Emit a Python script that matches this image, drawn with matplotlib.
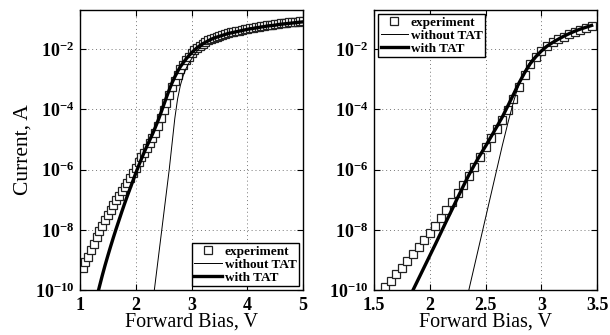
import matplotlib
matplotlib.use('Agg')
import matplotlib.pyplot as plt
import numpy as np
from matplotlib.ticker import NullLocator, FixedFormatter, FixedLocator

plt.rcParams['font.family'] = 'Liberation Serif'
plt.rcParams['font.weight'] = 'bold'
plt.rcParams['mathtext.fontset'] = 'custom'
plt.rcParams['mathtext.rm'] = 'Liberation Serif:bold'
plt.rcParams['mathtext.it'] = 'Liberation Serif:bold'
plt.rcParams['mathtext.bf'] = 'Liberation Serif:bold'

# ---- left panel: log10(current) ----
v_exp_left = np.round(np.arange(1.05, 5.001, 0.05), 2)
log_exp_left = [-9.27, -9.08, -8.90, -8.68, -8.46, -8.25, -8.05, -7.86, -7.67, -7.50,
                -7.33, -7.17, -7.02, -6.87, -6.72, -6.58, -6.43, -6.27, -6.10, -5.93,
                -5.76, -5.59, -5.43, -5.27, -5.12, -4.96, -4.77, -4.55, -4.30, -4.03,
                -3.77, -3.52, -3.27, -3.04, -2.84, -2.66, -2.51, -2.37, -2.25, -2.14,
                -2.04, -1.96, -1.89, -1.82, -1.76, -1.71, -1.66, -1.62, -1.58, -1.55,
                -1.52, -1.49, -1.46, -1.44, -1.42, -1.40, -1.38, -1.36, -1.34, -1.32,
                -1.30, -1.28, -1.27, -1.25, -1.24, -1.22, -1.21, -1.20, -1.18, -1.17,
                -1.16, -1.14, -1.13, -1.12, -1.11, -1.10, -1.09, -1.08, -1.07, -1.06]

v_tat_left = np.round(np.arange(1.30, 5.001, 0.05), 2)
log_tat_left = [-10.25, -9.88, -9.52, -9.18, -8.86, -8.55, -8.25, -7.96, -7.68, -7.40,
                -7.13, -6.87, -6.62, -6.37, -6.12, -5.88, -5.65, -5.43, -5.22, -5.02,
                -4.82, -4.60, -4.37, -4.12, -3.86, -3.60, -3.35, -3.12, -2.92, -2.74,
                -2.58, -2.45, -2.33, -2.22, -2.12, -2.03, -1.95, -1.88, -1.82, -1.77,
                -1.72, -1.67, -1.63, -1.60, -1.57, -1.54, -1.51, -1.48, -1.46, -1.44,
                -1.42, -1.40, -1.38, -1.36, -1.34, -1.32, -1.31, -1.29, -1.28, -1.26,
                -1.25, -1.23, -1.22, -1.21, -1.20, -1.18, -1.17, -1.16, -1.15, -1.14,
                -1.13, -1.12, -1.11, -1.10, -1.09]

v_notat_left = np.round(np.arange(2.30, 5.001, 0.05), 2)
log_notat_left = [-10.5, -9.75, -9.0, -8.25, -7.5, -6.75, -6.0, -5.15, -4.3, -3.65,
                  -3.2, -2.88, -2.65, -2.47, -2.32, -2.18, -2.06, -1.96, -1.87, -1.79,
                  -1.73, -1.68, -1.63, -1.60, -1.57, -1.54, -1.51, -1.48, -1.46, -1.44,
                  -1.42, -1.40, -1.38, -1.36, -1.34, -1.32, -1.31, -1.29, -1.28, -1.26,
                  -1.25, -1.23, -1.22, -1.21, -1.20, -1.18, -1.17, -1.16, -1.15, -1.14,
                  -1.13, -1.12, -1.11, -1.10, -1.09]

# ---- right panel ----
v_exp_right = np.round(np.arange(1.60, 3.451, 0.05), 2)
log_exp_right = [-9.90, -9.70, -9.48, -9.25, -9.02, -8.80, -8.57, -8.33, -8.10, -7.86,
                 -7.60, -7.33, -7.06, -6.78, -6.50, -6.20, -5.90, -5.58, -5.26, -4.95,
                 -4.65, -4.35, -4.02, -3.65, -3.25, -2.85, -2.50, -2.25, -2.06, -1.89,
                 -1.77, -1.67, -1.58, -1.50, -1.42, -1.35, -1.28, -1.22]

v_tat_right = np.round(np.arange(1.80, 3.451, 0.05), 2)
log_tat_right = [-10.4, -10.0, -9.62, -9.24, -8.86, -8.48, -8.09, -7.70, -7.32, -6.93,
                 -6.55, -6.18, -5.84, -5.52, -5.22, -4.90, -4.58, -4.25, -3.88, -3.50,
                 -3.12, -2.78, -2.48, -2.25, -2.06, -1.90, -1.78, -1.67, -1.57, -1.48,
                 -1.40, -1.33, -1.27, -1.21]

v_notat_right = np.round(np.arange(2.30, 3.451, 0.05), 2)
log_notat_right = [-10.8, -10.0, -9.2, -8.4, -7.6, -6.8, -6.0, -5.2, -4.45, -3.75,
                   -3.15, -2.72, -2.42, -2.20, -2.02, -1.87, -1.75, -1.65, -1.55, -1.47,
                   -1.39, -1.32, -1.26, -1.20]

ytick_vals = [1e-10, 1e-8, 1e-6, 1e-4, 1e-2]
ytick_text = [r'$10^{-10}$', r'$10^{-8}$', r'$10^{-6}$', r'$10^{-4}$', r'$10^{-2}$']

fig = plt.figure(figsize=(6.1, 3.35), dpi=100)
ax1 = fig.add_axes([0.131, 0.134, 0.366, 0.836])
ax2 = fig.add_axes([0.613, 0.134, 0.366, 0.836])


def draw_panel(ax, v_exp, log_exp, v_no, log_no, v_tat, log_tat, xlim, xticks, xticklabels, legend_loc):
    ax.semilogy(v_exp, 10.0 ** np.array(log_exp), 's', ms=6, mfc='white', mec='#222222',
                mew=0.9, label='experiment', zorder=2)
    ax.semilogy(v_no, 10.0 ** np.array(log_no), '-', color='k', lw=0.7,
                label='without TAT', zorder=3)
    ax.semilogy(v_tat, 10.0 ** np.array(log_tat), '-', color='k', lw=2.4,
                label='with TAT', zorder=4)
    ax.set_xlim(*xlim)
    ax.set_ylim(1e-10, 2e-1)
    ax.xaxis.set_major_locator(FixedLocator(xticks))
    ax.xaxis.set_major_formatter(FixedFormatter(xticklabels))
    ax.yaxis.set_major_locator(FixedLocator(ytick_vals))
    ax.yaxis.set_major_formatter(FixedFormatter(ytick_text))
    ax.yaxis.set_minor_locator(NullLocator())
    ax.grid(True, which='major', linestyle=(0, (1, 3)), color='#777777', lw=0.7)
    ax.tick_params(direction='in', top=True, right=True, labelsize=13, length=4, width=0.8)
    ax.tick_params(axis='x', pad=5)
    ax.tick_params(axis='y', pad=4)
    for sp in ax.spines.values():
        sp.set_linewidth(1.0)
    ax.set_xlabel('Forward Bias, V', fontsize=14.5, labelpad=-1)
    leg = ax.legend(loc=legend_loc, fontsize=9.5, frameon=True, fancybox=False,
                    edgecolor='k', framealpha=1, borderpad=0.2, labelspacing=0.05,
                    handlelength=2.1, handletextpad=0.2, borderaxespad=0.3)
    leg.get_frame().set_linewidth(1.0)
    for t in leg.get_texts():
        t.set_fontweight('bold')


draw_panel(ax1, v_exp_left, log_exp_left, v_notat_left, log_notat_left, v_tat_left, log_tat_left,
           (1, 5), [1, 2, 3, 4, 5], ['1', '2', '3', '4', '5'], 'lower right')
draw_panel(ax2, v_exp_right, log_exp_right, v_notat_right, log_notat_right, v_tat_right, log_tat_right,
           (1.5, 3.5), [1.5, 2, 2.5, 3, 3.5], ['1.5', '2', '2.5', '3', '3.5'], 'upper left')

ax1.set_ylabel('Current, A', fontsize=15.5, labelpad=2)

fig.savefig('out.png', dpi=100)
